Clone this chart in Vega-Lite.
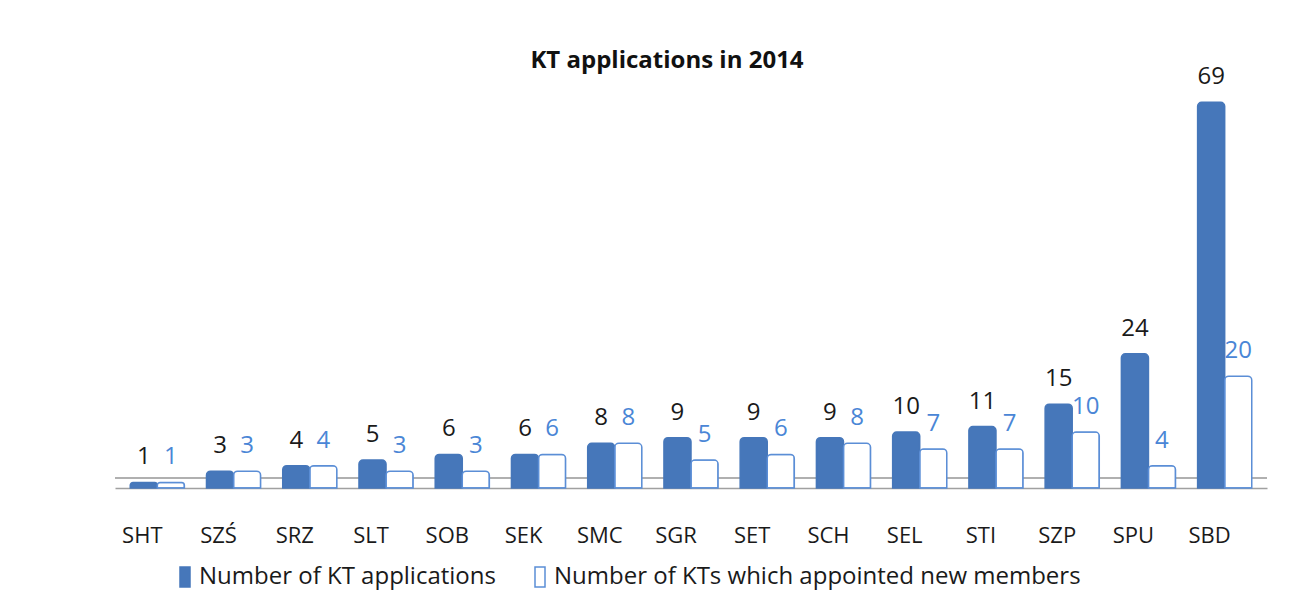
{
  "$schema": "https://vega.github.io/schema/vega-lite/v6.json",
  "autosize": "none",
  "width": 1152,
  "height": 408,
  "padding": {"left": 115, "top": 80, "right": 37, "bottom": 126},
  "background": "#ffffff",
  "title": {
    "text": "KT applications in 2014",
    "font": "Open Sans",
    "fontSize": 24,
    "fontWeight": "bold",
    "color": "#111111",
    "anchor": "middle",
    "frame": "group",
    "baseline": "alphabetic",
    "offset": 14,
    "dy": 41,
    "dx": -24
  },
  "config": {"view": {"stroke": null}},
  "data": {
    "values": [
      {"unit": "SHT", "series": "Number of KT applications", "value": 1},
      {"unit": "SHT", "series": "Number of KTs which appointed new members", "value": 1},
      {"unit": "SZŚ", "series": "Number of KT applications", "value": 3},
      {"unit": "SZŚ", "series": "Number of KTs which appointed new members", "value": 3},
      {"unit": "SRZ", "series": "Number of KT applications", "value": 4},
      {"unit": "SRZ", "series": "Number of KTs which appointed new members", "value": 4},
      {"unit": "SLT", "series": "Number of KT applications", "value": 5},
      {"unit": "SLT", "series": "Number of KTs which appointed new members", "value": 3},
      {"unit": "SOB", "series": "Number of KT applications", "value": 6},
      {"unit": "SOB", "series": "Number of KTs which appointed new members", "value": 3},
      {"unit": "SEK", "series": "Number of KT applications", "value": 6},
      {"unit": "SEK", "series": "Number of KTs which appointed new members", "value": 6},
      {"unit": "SMC", "series": "Number of KT applications", "value": 8},
      {"unit": "SMC", "series": "Number of KTs which appointed new members", "value": 8},
      {"unit": "SGR", "series": "Number of KT applications", "value": 9},
      {"unit": "SGR", "series": "Number of KTs which appointed new members", "value": 5},
      {"unit": "SET", "series": "Number of KT applications", "value": 9},
      {"unit": "SET", "series": "Number of KTs which appointed new members", "value": 6},
      {"unit": "SCH", "series": "Number of KT applications", "value": 9},
      {"unit": "SCH", "series": "Number of KTs which appointed new members", "value": 8},
      {"unit": "SEL", "series": "Number of KT applications", "value": 10},
      {"unit": "SEL", "series": "Number of KTs which appointed new members", "value": 7},
      {"unit": "STI", "series": "Number of KT applications", "value": 11},
      {"unit": "STI", "series": "Number of KTs which appointed new members", "value": 7},
      {"unit": "SZP", "series": "Number of KT applications", "value": 15},
      {"unit": "SZP", "series": "Number of KTs which appointed new members", "value": 10},
      {"unit": "SPU", "series": "Number of KT applications", "value": 24},
      {"unit": "SPU", "series": "Number of KTs which appointed new members", "value": 4},
      {"unit": "SBD", "series": "Number of KT applications", "value": 69},
      {"unit": "SBD", "series": "Number of KTs which appointed new members", "value": 20}
    ]
  },
  "layer": [
    {
      "mark": {"type": "rule", "color": "#b0b0b0", "strokeWidth": 1.2},
      "encoding": {
        "y": {"datum": 1.8, "type": "quantitative", "scale": {"domain": [0, 73], "nice": false}, "axis": null}
      }
    },
    {
      "mark": {"type": "bar", "strokeWidth": 1.5, "cornerRadiusTopLeft": 4, "cornerRadiusTopRight": 4},
      "encoding": {
        "x": {
          "field": "unit",
          "type": "nominal",
          "sort": null,
          "scale": {"paddingInner": 0.29},
          "axis": {
            "title": null,
            "labelAngle": 0,
            "labelFont": "Open Sans",
            "labelFontSize": 22,
            "labelColor": "#1a1a1a",
            "labelPadding": 37,
            "labelOffset": -15,
            "ticks": false,
            "domainColor": "#a0a0a0",
            "domainWidth": 1.5
          }
        },
        "xOffset": {
          "field": "series",
          "type": "nominal",
          "sort": ["Number of KT applications", "Number of KTs which appointed new members"],
          "scale": {"paddingInner": 0, "paddingOuter": 0}
        },
        "y": {
          "field": "value",
          "type": "quantitative",
          "scale": {"domain": [0, 73], "nice": false},
          "axis": null
        },
        "fill": {
          "field": "series",
          "type": "nominal",
          "scale": {
            "domain": ["Number of KT applications", "Number of KTs which appointed new members"],
            "range": ["#4677BA", "#ffffff"]
          },
          "legend": {
            "title": null,
            "orient": "none",
            "legendX": 58,
            "legendY": 485,
            "direction": "horizontal",
            "labelFont": "Open Sans",
            "labelFontSize": 24,
            "labelColor": "#1a1a1a",
            "labelLimit": 700,
            "symbolType": "M-0.5,-1H0.5V1H-0.5Z",
            "symbolSize": 400,
            "symbolStrokeWidth": 1.5,
            "labelOffset": 2,
            "columnPadding": 32
          }
        },
        "stroke": {
          "field": "series",
          "type": "nominal",
          "scale": {
            "domain": ["Number of KT applications", "Number of KTs which appointed new members"],
            "range": ["#4677BA", "#5B8ED6"]
          },
          "legend": {
            "title": null,
            "orient": "none",
            "legendX": 58,
            "legendY": 485,
            "direction": "horizontal",
            "labelFont": "Open Sans",
            "labelFontSize": 24,
            "labelColor": "#1a1a1a",
            "labelLimit": 700,
            "symbolType": "M-0.5,-1H0.5V1H-0.5Z",
            "symbolSize": 400,
            "symbolStrokeWidth": 1.5,
            "labelOffset": 2,
            "columnPadding": 32
          }
        }
      }
    },
    {
      "mark": {"type": "text", "font": "Open Sans", "fontSize": 24, "baseline": "alphabetic", "dy": -18},
      "encoding": {
        "x": {"field": "unit", "type": "nominal", "sort": null},
        "xOffset": {
          "field": "series",
          "type": "nominal",
          "sort": ["Number of KT applications", "Number of KTs which appointed new members"]
        },
        "y": {"field": "value", "type": "quantitative", "scale": {"domain": [0, 73], "nice": false}},
        "text": {"field": "value", "type": "quantitative"},
        "color": {
          "field": "series",
          "type": "nominal",
          "scale": {
            "domain": ["Number of KT applications", "Number of KTs which appointed new members"],
            "range": ["#1a1a1a", "#4A86D6"]
          },
          "legend": null
        }
      }
    }
  ]
}
